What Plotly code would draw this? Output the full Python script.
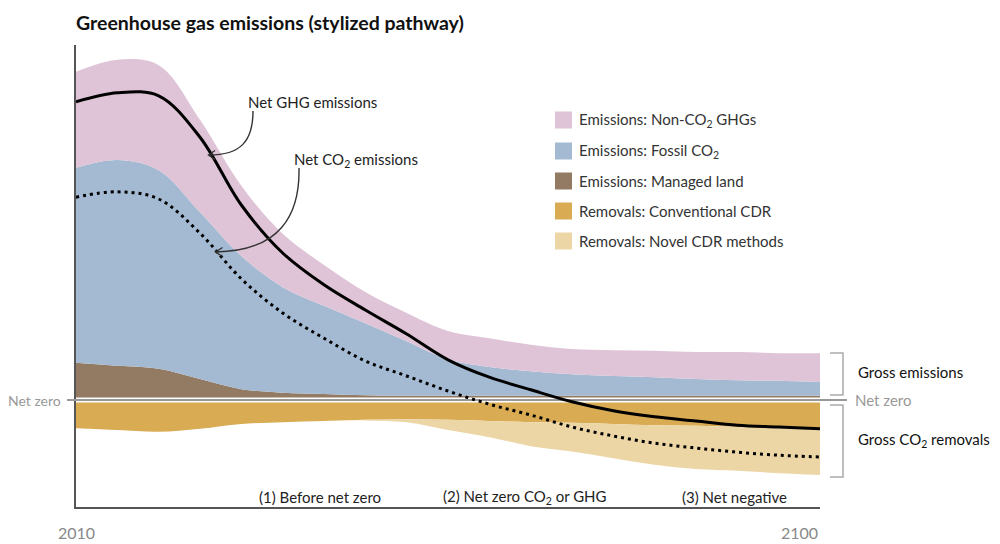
import plotly.graph_objects as go

# ---------------- data (arbitrary units ~GtCO2e) ----------------
years = list(range(2010, 2101, 5))
land = [6.2, 5.7, 5.2, 3.5, 1.8, 1.2, 1.0, 0.8, 0.7, 0.7, 0.7, 0.7, 0.7, 0.7, 0.7, 0.7, 0.7, 0.7, 0.7]
fossil = [32.5, 34.3, 33.1, 27.8, 22.2, 17.6, 14.7, 12.0, 9.1, 6.1, 4.8, 4.1, 3.6, 3.3, 3.1, 2.8, 2.6, 2.5, 2.3]
non_co2 = [16.0, 16.7, 17.5, 15.4, 11.7, 8.9, 6.8, 5.2, 4.7, 4.7, 4.8, 4.4, 4.2, 4.3, 4.4, 4.5, 4.7, 4.6, 4.8]
cdr_conv = [-4.7, -5.0, -5.3, -4.8, -4.0, -3.7, -3.5, -3.3, -3.2, -3.3, -3.5, -3.7, -3.8, -4.0, -4.2, -4.3, -4.5, -4.7, -4.7]
cdr_novel = [0, 0, 0, 0, 0, 0, 0, -0.1, -0.5, -1.7, -2.7, -4.0, -4.8, -5.7, -6.6, -7.2, -7.3, -7.5, -7.8]
net_ghg = [49.7, 51.2, 50.7, 43.8, 32.5, 24.5, 19.2, 15.0, 11.0, 6.7, 3.8, 1.7, -0.3, -1.8, -2.8, -3.5, -4.2, -4.5, -4.8]
net_co2 = [33.8, 34.7, 33.5, 27.8, 20.2, 14.5, 10.3, 6.5, 4.0, 1.5, -0.7, -2.5, -4.5, -6.0, -7.2, -8.0, -8.7, -9.2, -9.5]

tick_years = [2010, 2100]
tick_labels = ["2010", "2100"]

legend_labels = [
    "Emissions: Non-CO<sub>2</sub> GHGs",
    "Emissions: Fossil CO<sub>2</sub>",
    "Emissions: Managed land",
    "Removals: Conventional CDR",
    "Removals: Novel CDR methods",
]
phase_labels = ["(1) Before net zero", "(2) Net zero CO<sub>2</sub> or GHG", "(3) Net negative"]

# ---------------- styles ----------------
C_PINK = "#dfc3d6"
C_BLUE = "#a3bad2"
C_BROWN = "#937a62"
C_GOLD = "#d9ab52"
C_LGOLD = "#ecd6a6"
legend_colors = [C_PINK, C_BLUE, C_BROWN, C_GOLD, C_LGOLD]
FONT = "Lato, 'Open Sans', sans-serif"

OFF = 8                      # page body margin
W, H = 1000 - OFF, 544 - OFF
PLOT_L, PLOT_T, PLOT_R, PLOT_B = 76, 45, 820, 507   # page pixels
PW, PH = PLOT_R - PLOT_L, PLOT_B - PLOT_T
L, T = PLOT_L - OFF, PLOT_T - OFF
R, B = W - L - PW, H - T - PH
Y0PX = 400
UNIT = 6.0
y_top = (Y0PX - PLOT_T) / UNIT
y_bot = -(PLOT_B - Y0PX) / UNIT


def PX(x):
    return (x - PLOT_L) / PW


def PY(y):
    return (PLOT_B - y) / PH


def path(points):
    s = ""
    for i, (x, y) in enumerate(points):
        s += ("M" if i == 0 else " L") + f" {PX(x):.5f},{PY(y):.5f}"
    return s


def bez(p0, c1, c2, p1):
    return (f"M {PX(p0[0]):.5f},{PY(p0[1]):.5f} C {PX(c1[0]):.5f},{PY(c1[1]):.5f} "
            f"{PX(c2[0]):.5f},{PY(c2[1]):.5f} {PX(p1[0]):.5f},{PY(p1[1]):.5f}")


# cumulative stacks
s_land = land
s_fossil = [a + b for a, b in zip(land, fossil)]
s_total = [a + b for a, b in zip(s_fossil, non_co2)]
n_conv = cdr_conv
n_total = [a + b for a, b in zip(cdr_conv, cdr_novel)]

fig = go.Figure()


def area(y, color, fill):
    fig.add_trace(go.Scatter(x=years, y=y, mode="lines", fill=fill, fillcolor=color,
                             line=dict(width=0, shape="spline", color=color),
                             hoverinfo="skip", showlegend=False))


area(s_land, C_BROWN, "tozeroy")
area(s_fossil, C_BLUE, "tonexty")
area(s_total, C_PINK, "tonexty")
area(n_conv, C_GOLD, "tozeroy")
area(n_total, C_LGOLD, "tonexty")

# separator at net zero (white gap + gray line)
fig.add_trace(go.Scatter(x=[tick_years[0], tick_years[-1]], y=[0, 0], mode="lines",
                         line=dict(color="white", width=5), hoverinfo="skip", showlegend=False))
fig.add_trace(go.Scatter(x=[tick_years[0], tick_years[-1]], y=[0, 0], mode="lines",
                         line=dict(color="#999999", width=2), hoverinfo="skip", showlegend=False))

fig.add_trace(go.Scatter(x=years, y=net_ghg, mode="lines",
                         line=dict(color="black", width=3, shape="spline"),
                         hoverinfo="skip", showlegend=False))
fig.add_trace(go.Scatter(x=years, y=net_co2, mode="lines",
                         line=dict(color="black", width=3, shape="spline", dash="3px,4px"),
                         hoverinfo="skip", showlegend=False))

shapes = []
annotations = []

# gray net-zero line extensions outside plot
shapes.append(dict(type="line", xref="paper", yref="y", x0=PX(67), x1=0, y0=0, y1=0,
                   line=dict(color="#999999", width=2)))
shapes.append(dict(type="line", xref="paper", yref="y", x0=1, x1=PX(847), y0=0, y1=0,
                   line=dict(color="#999999", width=2)))

# brackets
shapes.append(dict(type="path", xref="paper", yref="paper",
                   path=path([(830, 353), (843, 353), (843, 395), (830, 395)]),
                   line=dict(color="#aaaaaa", width=1.5)))
shapes.append(dict(type="path", xref="paper", yref="paper",
                   path=path([(830, 405), (843, 405), (843, 477), (830, 477)]),
                   line=dict(color="#aaaaaa", width=1.5)))

# curved arrows
ARROW = "#333333"
shapes.append(dict(type="path", xref="paper", yref="paper",
                   path=bez((253, 111), (253, 142), (240, 155), (209, 155)),
                   line=dict(color=ARROW, width=1.4)))
shapes.append(dict(type="path", xref="paper", yref="paper",
                   path=path([(215, 150.5), (208.5, 155), (215, 159.5)]),
                   line=dict(color=ARROW, width=1.4)))
shapes.append(dict(type="path", xref="paper", yref="paper",
                   path=bez((299, 168), (300, 215), (280, 251), (216, 252)),
                   line=dict(color=ARROW, width=1.4)))
shapes.append(dict(type="path", xref="paper", yref="paper",
                   path=path([(222.5, 247.5), (215.5, 252), (222.5, 256.5)]),
                   line=dict(color=ARROW, width=1.4)))

# legend
row_y = [120, 151, 181, 211, 241]
for lab, col, ry in zip(legend_labels, legend_colors, row_y):
    shapes.append(dict(type="rect", xref="paper", yref="paper",
                       x0=PX(555), x1=PX(572), y0=PY(ry + 8.5), y1=PY(ry - 8.5),
                       fillcolor=col, line=dict(width=0)))
    annotations.append(dict(xref="paper", yref="paper", x=PX(577), y=PY(ry), text=lab,
                            xanchor="left", yanchor="middle", showarrow=False,
                            font=dict(size=15, color="#333333", family=FONT)))

# line labels
annotations.append(dict(xref="paper", yref="paper", x=PX(246), y=PY(102), text="Net GHG emissions",
                        xanchor="left", yanchor="middle", showarrow=False,
                        font=dict(size=15, color="#222222", family=FONT)))
annotations.append(dict(xref="paper", yref="paper", x=PX(292), y=PY(160), text="Net CO<sub>2</sub> emissions",
                        xanchor="left", yanchor="middle", showarrow=False,
                        font=dict(size=15, color="#222222", family=FONT)))

# net zero labels
annotations.append(dict(xref="paper", yref="y", x=PX(63), y=0, text="Net zero",
                        xanchor="right", yanchor="middle", showarrow=False,
                        font=dict(size=14, color="#999999", family=FONT)))
annotations.append(dict(xref="paper", yref="y", x=PX(853), y=0, text="Net zero",
                        xanchor="left", yanchor="middle", showarrow=False,
                        font=dict(size=15, color="#999999", family=FONT)))

# bracket labels
annotations.append(dict(xref="paper", yref="paper", x=PX(856), y=PY(372), text="Gross emissions",
                        xanchor="left", yanchor="middle", showarrow=False,
                        font=dict(size=15, color="#111111", family=FONT)))
annotations.append(dict(xref="paper", yref="paper", x=PX(856), y=PY(440), text="Gross CO<sub>2</sub> removals",
                        xanchor="left", yanchor="middle", showarrow=False,
                        font=dict(size=15, color="#111111", family=FONT)))

# phase labels
for lab, cx in zip(phase_labels, [320, 525, 734]):
    annotations.append(dict(xref="paper", yref="paper", x=PX(cx), y=PY(497), text=lab,
                            xanchor="center", yanchor="middle", showarrow=False,
                            font=dict(size=15, color="#222222", family=FONT)))

# x tick labels
for yr, lab, anc in zip(tick_years, tick_labels, ["center", "right"]):
    annotations.append(dict(xref="x", yref="paper", x=yr, y=PY(532), text=lab,
                            xanchor=anc, yanchor="middle", showarrow=False,
                            font=dict(size=16, color="#888888", family=FONT)))

fig.update_layout(
    width=W, height=H, autosize=False,
    margin=dict(l=L, r=R, t=T, b=B, pad=0),
    paper_bgcolor="white", plot_bgcolor="white",
    font=dict(family=FONT, color="#222222"),
    title=dict(text="<b>Greenhouse gas emissions (stylized pathway)</b>",
               x=0, xref="paper", xanchor="left",
               y=1 - (23 - OFF) / H, yref="container", yanchor="middle",
               font=dict(size=19.5, color="#111111", family=FONT)),
    xaxis=dict(range=[tick_years[0], tick_years[-1]], showgrid=False, zeroline=False,
               showticklabels=False, ticks="", showline=True, linecolor="#555555", linewidth=1.5),
    yaxis=dict(range=[y_bot, y_top], showgrid=False, zeroline=False,
               showticklabels=False, ticks="", showline=True, linecolor="#555555", linewidth=1.5),
    shapes=shapes,
    annotations=annotations,
    hovermode=False,
)

fig.write_html("out.html")
